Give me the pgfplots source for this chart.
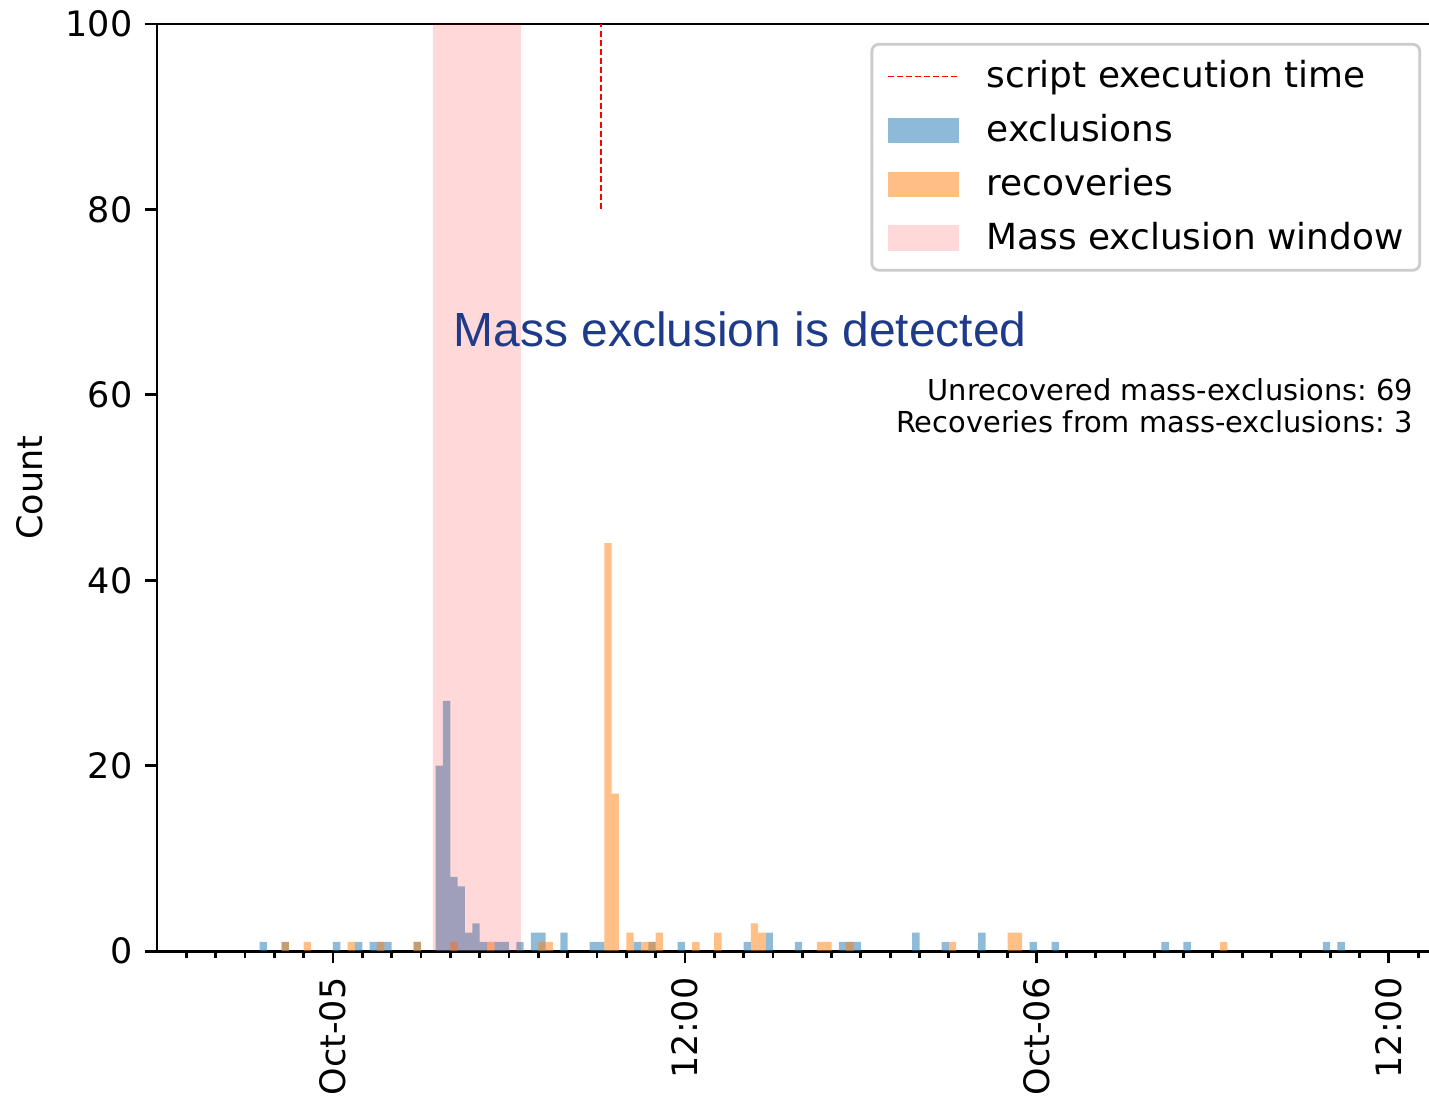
\documentclass[border=0pt]{standalone}
\usepackage{fontspec}
\setmainfont{DejaVu Sans}
\newfontfamily\libsans{Liberation Sans}
\usepackage{pgfplots}
\pgfplotsset{compat=1.18}

\definecolor{mplblue}{RGB}{31,119,180}
\definecolor{mplorange}{RGB}{255,127,14}
\definecolor{txtblue}{RGB}{30,58,138}

\pgfplotsset{
  mypatch/.style={legend image code/.code={\fill[##1, draw=none, sharp corners] (0pt,-3.6pt) rectangle (20.3pt,3.6pt);}},
  myline/.style={legend image code/.code={\draw[##1, sharp corners] (0pt,0pt) -- (20.3pt,0pt);}},
}

\begin{document}
\frenchspacing
\begin{tikzpicture}
\begin{axis}[
  scale only axis,
  width=366.6pt, height=264.9pt,
  xmin=-6, xmax=37.75, ymin=0, ymax=100,
  axis line style={line width=0.8pt},
  tick style={line width=0.8pt, black},
  tick align=outside,
  tick pos=left,
  major tick length=3.5pt,
  minor tick length=2pt,
  xtick={0,12,24,36},
  xticklabels={Oct-05,12:00,Oct-06,12:00},
  minor xtick={-5,...,37},
  ytick={0,20,40,60,80,100},
  xticklabel style={rotate=90, anchor=east, xshift=-0.5pt},
  ticklabel style={font=\fontsize{10}{12}\selectfont},
  /pgf/number format/assume math mode=true,
  ylabel={Count},
  every axis y label/.style={at={(rel axis cs:0,0.5)}, rotate=90, anchor=center, yshift=36.3pt, font=\fontsize{10}{12}\selectfont},
  legend cell align=left,
  legend style={at={(rel axis cs:1,1)}, anchor=north east, xshift=-5.4pt, yshift=-5.4pt,
    draw=black!20, rounded corners=2pt, line width=0.8pt, fill=white,
    font=\fontsize{10.25}{12}\selectfont, row sep=0pt, column sep=7.4pt, inner xsep=4.3pt, inner ysep=1.5pt,
    nodes={inner xsep=0.3pt, inner ysep=3.05pt}},
]
\addplot[red, line width=0.5pt, dash pattern=on 1.7pt off 0.9pt, myline] coordinates {(9.14,80) (9.14,100)};
\addlegendentry{script execution time}

\addplot[ybar, bar width=0.25, bar shift=0pt, fill=mplblue, fill opacity=0.5, draw=none, mypatch] coordinates {
(-2.375,1) (-1.625,1) (0.125,1) (0.875,1) (1.375,1) (1.625,1) (1.875,1) (2.875,1)
(3.625,20) (3.875,27) (4.125,8) (4.375,7) (4.625,2) (4.875,3) (5.125,1) (5.625,1) (5.875,1) (6.375,1)
(6.875,2) (7.125,2) (7.875,2) (8.875,1) (9.125,1) (10.375,1) (10.875,1) (11.875,1)
(14.125,1) (14.875,2) (15.875,1) (17.375,1) (17.625,1) (17.875,1)
(19.875,2) (20.875,1) (22.125,2) (23.875,1) (24.625,1)
(28.375,1) (29.125,1) (33.875,1) (34.375,1)
};
\addlegendentry{exclusions}

\addplot[ybar, bar width=0.25, bar shift=0pt, fill=mplorange, fill opacity=0.5, draw=none, mypatch] coordinates {
(-1.625,1) (-0.875,1) (0.625,1) (1.625,1) (2.875,1) (4.125,1) (5.375,1) (7.125,1) (7.375,1)
(9.375,44) (9.625,17) (10.125,2) (10.625,1) (10.875,1) (11.125,2) (12.375,1) (13.125,2)
(14.375,3) (14.625,2) (16.625,1) (16.875,1) (17.625,1) (21.125,1) (23.125,2) (23.375,2) (30.375,1)
};
\addlegendentry{recoveries}

\addplot[fill=red, fill opacity=0.15, draw=none, mypatch] coordinates {(3.41,0) (3.41,100) (6.41,100) (6.41,0)} \closedcycle;
\addlegendentry{Mass exclusion window}

\node[anchor=base west, inner sep=0pt, text=txtblue, font=\libsans\fontsize{13.7}{16}\selectfont] at (axis cs:4.09,65.2) {Mass exclusion is detected};
\node[anchor=base east, inner sep=0pt, font=\fontsize{8.25}{10}\selectfont] at (axis cs:36.85,59.4) {Unrecovered mass-exclusions: 69};
\node[anchor=base east, inner sep=0pt, font=\fontsize{8.25}{10}\selectfont] at (axis cs:36.85,55.9) {Recoveries from mass-exclusions: 3};

\coordinate (BL) at (rel axis cs:0,0);
\coordinate (TL) at (rel axis cs:0,1);
\end{axis}
\pgfresetboundingbox
\path[use as bounding box] ([xshift=-44.86pt, yshift=-43.43pt]BL) rectangle ([xshift=363.43pt, yshift=6.86pt]TL);
\end{tikzpicture}
\end{document}
